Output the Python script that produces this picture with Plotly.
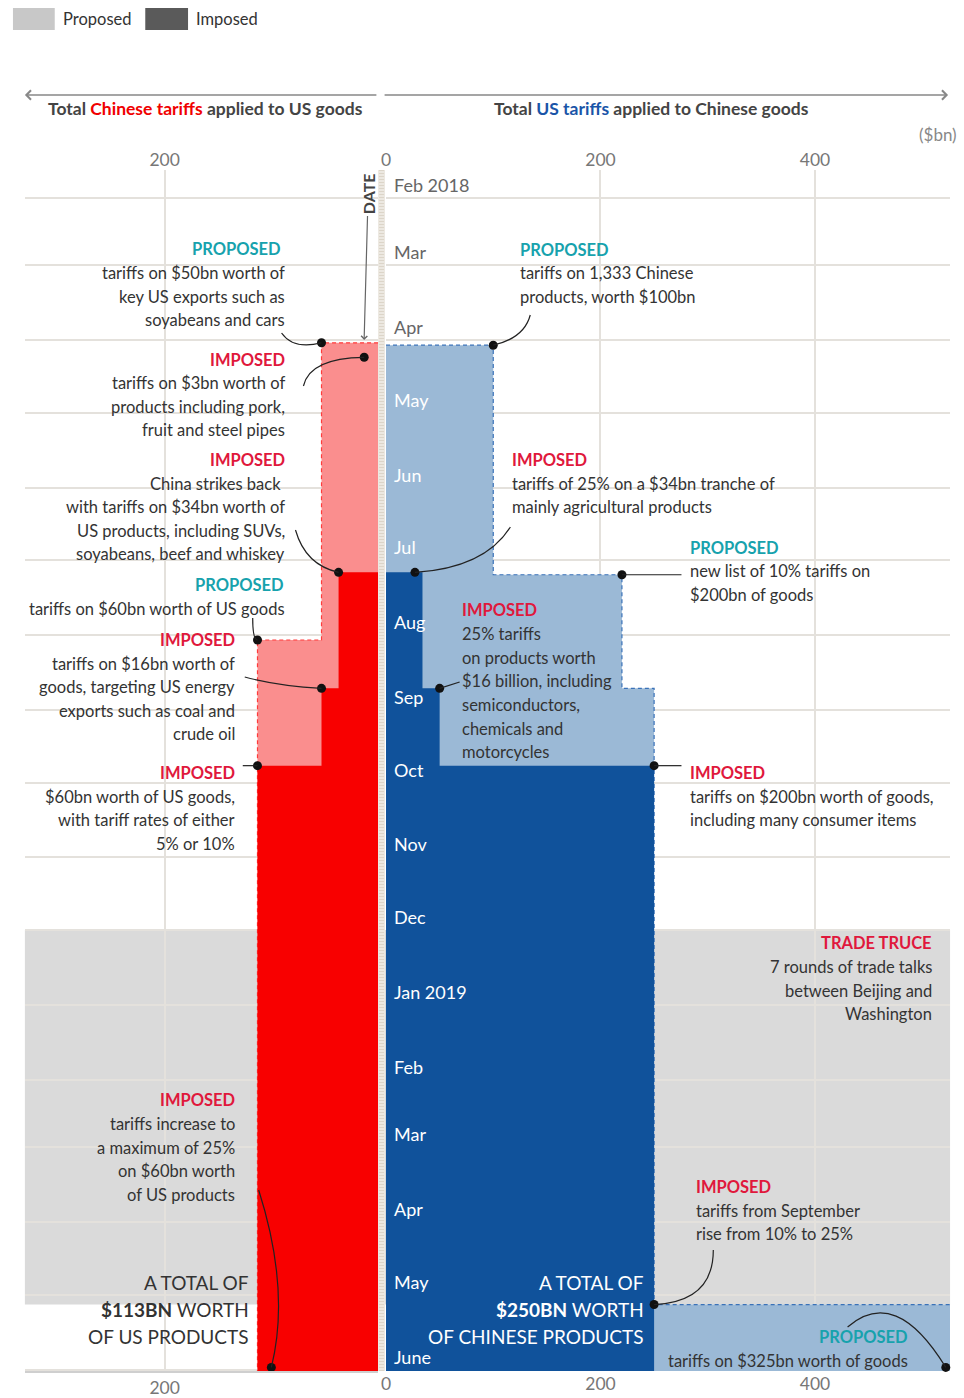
import pandas as pd
import plotly.graph_objects as go

W, H = 964, 1398

# ---------------- data ----------------
CN_PROPOSED_DATES = ['2018-04-02', '2018-08-03']
CN_PROPOSED_TOTAL = [53, 113]
CN_IMPOSED_DATES = ['2018-07-06', '2018-08-23', '2018-09-24']
CN_IMPOSED_TOTAL = [37, 53, 113]

US_PROPOSED_DATES = ['2018-04-03', '2018-07-07', '2018-08-23', '2019-05-05']
US_PROPOSED_TOTAL = [100, 220, 250, 575]
US_IMPOSED_DATES = ['2018-07-06', '2018-08-23', '2018-09-24', '2019-05-10']
US_IMPOSED_TOTAL = [34, 50, 250, 250]

END_DATE = '2019-06-02'
TRUCE_START, TRUCE_END = '2018-12-01', '2019-05-05'

CN_EVENT_VALUES = [53, 13, 37, 113, 53, 113, 100]
CN_EVENT_DATES = ['2018-04-02', '2018-04-08', '2018-07-06', '2018-08-03',
                  '2018-08-23', '2018-09-24', '2019-05-31']
US_EVENT_VALUES = [100, 27, 220, 50, 250, 250, 522]
US_EVENT_DATES = ['2018-04-03', '2018-07-06', '2018-07-07', '2018-08-23',
                  '2018-09-24', '2019-05-05', '2019-05-31']

MONTHS = ['2018-02-01', '2018-03-01', '2018-04-01', '2018-05-01', '2018-06-01',
          '2018-07-01', '2018-08-01', '2018-09-01', '2018-10-01', '2018-11-01',
          '2018-12-01', '2019-01-01', '2019-02-01', '2019-03-01', '2019-04-01',
          '2019-05-01', '2019-06-01']
MONTH_LABELS = ['Feb 2018', 'Mar', 'Apr', 'May', 'Jun', 'Jul', 'Aug', 'Sep', 'Oct',
                'Nov', 'Dec', 'Jan 2019', 'Feb', 'Mar', 'Apr', 'May', 'June']

LEFT_TICKS = [200]
RIGHT_TICKS = [0, 200, 400]

# ---------------- layout constants ----------------
Y_TOP, Y_BOT = 170, 1371
LX0, LX1 = 20, 375
RX0, RX1 = 383, 950
LEFT_RANGE = [331, 0]
RIGHT_RANGE = [0, 526]
DATE_TOP = pd.Timestamp('2018-01-20 12:00')
DATE_BOT = pd.Timestamp('2019-06-01 12:00')

LIGHT_RED, DARK_RED = '#fa8e8e', '#f80000'
LIGHT_BLUE, DARK_BLUE = '#9bb9d6', '#10529b'
TEAL, CRIMSON, TXT = '#17a2ad', '#e0183c', '#333333'
GRID = '#e4e1dc'
FONT = 'Lato'
BODY = 16.5


def PX(x):
    return x / W


def PY(y):
    return 1 - y / H


def left_px(v):
    return LX0 + (LEFT_RANGE[0] - v) / LEFT_RANGE[0] * (LX1 - LX0)


def right_px(v):
    return RX0 + v / RIGHT_RANGE[1] * (RX1 - RX0)


def date_px(d):
    t = pd.Timestamp(d)
    return Y_TOP + (t - DATE_TOP) / (DATE_BOT - DATE_TOP) * (Y_BOT - Y_TOP)


def step_outline(dates, values, end):
    ys = [dates[0]] + list(dates) + [end, end]
    xs = [0] + list(values) + [values[-1], 0]
    return xs, ys


fig = go.Figure()

# ---------------- areas ----------------
xs, ys = step_outline(CN_PROPOSED_DATES, CN_PROPOSED_TOTAL, END_DATE)
fig.add_trace(go.Scatter(x=xs, y=ys, xaxis='x', yaxis='y', mode='lines', fill='toself',
                         fillcolor=LIGHT_RED,
                         line=dict(shape='vh', color='#ff3b3b', width=1.2, dash='4px,3px'),
                         hoverinfo='skip', showlegend=False))
xs, ys = step_outline(CN_IMPOSED_DATES, CN_IMPOSED_TOTAL, END_DATE)
fig.add_trace(go.Scatter(x=xs, y=ys, xaxis='x', yaxis='y', mode='lines', fill='toself',
                         fillcolor=DARK_RED, line=dict(shape='vh', width=0, color=DARK_RED),
                         hoverinfo='skip', showlegend=False))
xs, ys = step_outline(US_PROPOSED_DATES, US_PROPOSED_TOTAL, END_DATE)
fig.add_trace(go.Scatter(x=xs, y=ys, xaxis='x2', yaxis='y2', mode='lines', fill='toself',
                         fillcolor=LIGHT_BLUE,
                         line=dict(shape='vh', color='#3a72b8', width=1.2, dash='4px,3px'),
                         hoverinfo='skip', showlegend=False))
xs, ys = step_outline(US_IMPOSED_DATES, US_IMPOSED_TOTAL, END_DATE)
fig.add_trace(go.Scatter(x=xs, y=ys, xaxis='x2', yaxis='y2', mode='lines', fill='toself',
                         fillcolor=DARK_BLUE, line=dict(shape='vh', width=0, color=DARK_BLUE),
                         hoverinfo='skip', showlegend=False))

# empty traces to carry the bottom axes
fig.add_trace(go.Scatter(x=[], y=[], xaxis='x3', yaxis='y', showlegend=False, hoverinfo='skip'))
fig.add_trace(go.Scatter(x=[], y=[], xaxis='x4', yaxis='y2', showlegend=False, hoverinfo='skip'))

# ---------------- connectors (curves) ----------------
shapes = []


def curve(x0, y0, cx, cy, x1, y1):
    shapes.append(dict(type='path', xref='paper', yref='paper', layer='above',
                       path=f'M {PX(x0)},{PY(y0)} Q {PX(cx)},{PY(cy)} {PX(x1)},{PY(y1)}',
                       line=dict(color='#222', width=1.2)))


cn_dots = [(left_px(v), date_px(d)) for v, d in zip(CN_EVENT_VALUES, CN_EVENT_DATES)]
us_dots = [(right_px(v), date_px(d)) for v, d in zip(US_EVENT_VALUES, US_EVENT_DATES)]

cn_curves = [((278, 333), (290, 350)), ((300, 386), (306, 358)), ((292, 530), (302, 565)),
             ((249, 618), (249, 640)), ((241, 677), (275, 686)), (None, None),
             ((255, 1190), (287, 1290))]
for (start, ctrl), (dx, dy) in zip(cn_curves, cn_dots):
    if start is None:
        curve(239, dy, (239 + dx) / 2, dy, dx, dy)
    else:
        curve(start[0], start[1], ctrl[0], ctrl[1], dx, dy)

us_curves = [((528, 315), (522, 338)), ((508, 527), (482, 568)), ('h', 680),
             ((457, 682), None), ('h', 680), ((712, 1250), (712, 1302)),
             ((847, 1327), (895, 1285))]
for spec, (dx, dy) in zip(us_curves, us_dots):
    if spec[0] == 'h':
        curve(spec[1], dy, (spec[1] + dx) / 2, dy, dx, dy)
    elif spec[1] is None:
        sx, sy = spec[0]
        curve(sx, sy, (sx + dx) / 2, (sy + dy) / 2, dx, dy)
    else:
        (sx, sy), (cx, cy) = spec
        curve(sx, sy, cx, cy, dx, dy)

# dots
fig.add_trace(go.Scatter(x=CN_EVENT_VALUES, y=CN_EVENT_DATES, xaxis='x', yaxis='y',
                         mode='markers', marker=dict(color='#111', size=9),
                         hoverinfo='skip', showlegend=False, cliponaxis=False))
fig.add_trace(go.Scatter(x=US_EVENT_VALUES, y=US_EVENT_DATES, xaxis='x2', yaxis='y2',
                         mode='markers', marker=dict(color='#111', size=9),
                         hoverinfo='skip', showlegend=False, cliponaxis=False))

# ---------------- background shapes ----------------
shapes.append(dict(type='rect', xref='paper', yref='y', layer='below',
                   x0=PX(LX0), x1=PX(RX1), y0=TRUCE_START, y1=TRUCE_END,
                   fillcolor='#dadada', line=dict(width=0)))
MASKS = [(85, 238, 320, 336), (55, 336, 320, 350), (75, 350, 320, 448), (92, 448, 320, 522),
         (55, 522, 340, 575), (35, 575, 262, 632), (28, 632, 262, 752), (72, 752, 262, 800),
         (150, 800, 262, 872), (80, 1306, 262, 1370),
         (383, 238, 727, 300), (468, 300, 535, 345), (489, 400, 605, 425),
         (489, 425, 793, 535), (489, 535, 950, 610), (654, 620, 716, 720),
         (654, 760, 950, 840)]
for x0, y0, x1, y1 in MASKS:
    shapes.append(dict(type='rect', xref='paper', yref='paper', layer='between',
                       x0=PX(x0), x1=PX(x1), y0=PY(y1), y1=PY(y0),
                       fillcolor='white', line=dict(width=0)))
# central date ruler
shapes.append(dict(type='rect', xref='paper', yref='paper', layer='above',
                   x0=PX(375), x1=PX(382), y0=PY(Y_BOT), y1=PY(Y_TOP),
                   fillcolor='#ece8e1', line=dict(width=0)))
shapes.append(dict(type='line', xref='paper', yref='paper', layer='above',
                   x0=PX(378.5), x1=PX(378.5), y0=PY(Y_BOT), y1=PY(Y_TOP),
                   line=dict(color='#dcd5c9', width=5, dash='1px,2px')))
# legend swatches
shapes.append(dict(type='rect', xref='paper', yref='paper', x0=PX(8), x1=PX(50),
                   y0=PY(30), y1=PY(8), fillcolor='#c8c8c8', line=dict(width=0)))
shapes.append(dict(type='rect', xref='paper', yref='paper', x0=PX(141), x1=PX(184),
                   y0=PY(30), y1=PY(8), fillcolor='#5a5a5a', line=dict(width=0)))

# ---------------- annotations ----------------
ann = []


def text(t, x, y, anchor='left', size=BODY, color=TXT, bold=False):
    ann.append(dict(text=f'<b>{t}</b>' if bold else t, x=PX(x), y=PY(y), xref='paper',
                    yref='paper', xanchor=anchor, yanchor='middle', showarrow=False,
                    font=dict(family=FONT, size=size, color=color)))


text('Proposed', 56, 19, size=16.5)
text('Imposed', 190, 19, size=16.5)
text('Total <span style="color:#f00000">Chinese tariffs</span> applied to US goods',
     202, 109, anchor='center', size=17.5, color='#444', bold=True)
text('Total <span style="color:#1a55a8">US tariffs</span> applied to Chinese goods',
     650, 108, anchor='center', size=17.5, color='#444', bold=True)
text('($bn)', 959, 135, anchor='right', size=17, color='#888')

ann.append(dict(text='', x=PX(20), y=PY(95), xref='paper', yref='paper', showarrow=True,
                ax=353, ay=0, arrowhead=4, arrowsize=1.2, arrowwidth=1.5, arrowcolor='#888'))
ann.append(dict(text='', x=PX(948), y=PY(95), xref='paper', yref='paper', showarrow=True,
                ax=-565, ay=0, arrowhead=4, arrowsize=1.2, arrowwidth=1.5, arrowcolor='#888'))
ann.append(dict(text='<b>DATE</b>', x=PX(361), y=PY(340), xref='paper', yref='paper',
                showarrow=True, ax=4, ay=-146, textangle=-90, arrowhead=4, arrowsize=1,
                arrowwidth=1.2, arrowcolor='#666',
                font=dict(family=FONT, size=16, color='#444')))

STYLE = {'prop': dict(color=TEAL, bold=True), 'imp': dict(color=CRIMSON, bold=True),
         'body': dict(color=TXT), 'total': dict(color=TXT, size=19),
         'total_w': dict(color='white', size=19)}

LINES = [
    ('PROPOSED', 'prop', 'right', 279, 249),
    ('tariffs on $50bn worth of', 'body', 'right', 283, 273),
    ('key US exports such as', 'body', 'right', 283, 297),
    ('soyabeans and cars', 'body', 'right', 283, 320),
    ('IMPOSED', 'imp', 'right', 283, 360),
    ('tariffs on $3bn worth of', 'body', 'right', 283, 383),
    ('products including pork,', 'body', 'right', 283, 407),
    ('fruit and steel pipes', 'body', 'right', 283, 430),
    ('IMPOSED', 'imp', 'right', 283, 460),
    ('China strikes back', 'body', 'right', 279, 484),
    ('with tariffs on $34bn worth of', 'body', 'right', 283, 507),
    ('US products, including SUVs,', 'body', 'right', 283, 531),
    ('soyabeans, beef and whiskey', 'body', 'right', 283, 554),
    ('PROPOSED', 'prop', 'right', 282, 585),
    ('tariffs on $60bn worth of US goods', 'body', 'right', 283, 609),
    ('IMPOSED', 'imp', 'right', 233, 640),
    ('tariffs on $16bn worth of', 'body', 'right', 233, 664),
    ('goods, targeting US energy', 'body', 'right', 233, 687),
    ('exports such as coal and', 'body', 'right', 233, 711),
    ('crude oil', 'body', 'right', 233, 734),
    ('IMPOSED', 'imp', 'right', 233, 773),
    ('$60bn worth of US goods,', 'body', 'right', 233, 797),
    ('with tariff rates of either', 'body', 'right', 233, 820),
    ('5% or 10%', 'body', 'right', 233, 844),
    ('IMPOSED', 'imp', 'right', 233, 1100),
    ('tariffs increase to', 'body', 'right', 233, 1124),
    ('a maximum of 25%', 'body', 'right', 233, 1148),
    ('on $60bn worth', 'body', 'right', 233, 1171),
    ('of US products', 'body', 'right', 233, 1195),
    ('A TOTAL OF', 'total', 'right', 247, 1282),
    ('<b>$113BN</b> WORTH', 'total', 'right', 247, 1309),
    ('OF US PRODUCTS', 'total', 'right', 247, 1336),
    ('PROPOSED', 'prop', 'left', 516, 250),
    ('tariffs on 1,333 Chinese', 'body', 'left', 516, 273),
    ('products, worth $100bn', 'body', 'left', 516, 297),
    ('IMPOSED', 'imp', 'left', 508, 460),
    ('tariffs of 25% on a $34bn tranche of', 'body', 'left', 508, 484),
    ('mainly agricultural products', 'body', 'left', 508, 507),
    ('PROPOSED', 'prop', 'left', 687, 548),
    ('new list of 10% tariffs on', 'body', 'left', 687, 571),
    ('$200bn of goods', 'body', 'left', 687, 595),
    ('IMPOSED', 'imp', 'left', 457, 610),
    ('25% tariffs', 'body', 'left', 457, 634),
    ('on products worth', 'body', 'left', 457, 658),
    ('$16 billion, including', 'body', 'left', 457, 681),
    ('semiconductors,', 'body', 'left', 457, 705),
    ('chemicals and', 'body', 'left', 457, 729),
    ('motorcycles', 'body', 'left', 457, 752),
    ('IMPOSED', 'imp', 'left', 687, 773),
    ('tariffs on $200bn worth of goods,', 'body', 'left', 687, 797),
    ('including many consumer items', 'body', 'left', 687, 820),
    ('TRADE TRUCE', 'imp', 'right', 934, 943),
    ('7 rounds of trade talks', 'body', 'right', 934, 967),
    ('between Beijing and', 'body', 'right', 934, 991),
    ('Washington', 'body', 'right', 934, 1014),
    ('IMPOSED', 'imp', 'left', 693, 1187),
    ('tariffs from September', 'body', 'left', 693, 1211),
    ('rise from 10% to 25%', 'body', 'left', 693, 1234),
    ('A TOTAL OF', 'total_w', 'right', 644, 1282),
    ('<b>$250BN</b> WORTH', 'total_w', 'right', 644, 1309),
    ('OF CHINESE PRODUCTS', 'total_w', 'right', 644, 1336),
    ('PROPOSED', 'prop', 'right', 910, 1337),
    ('tariffs on $325bn worth of goods', 'body', 'right', 910, 1361),
]
for t, kind, anchor, x, y in LINES:
    text(t, x, y, anchor=anchor, **STYLE[kind])

for i, (m, lab) in enumerate(zip(MONTHS, MONTH_LABELS)):
    ann.append(dict(text=lab, x=PX(389), y=m, xref='paper', yref='y', xanchor='left',
                    yanchor='middle', yshift=13, showarrow=False,
                    font=dict(family=FONT, size=18, color='#666' if i < 3 else 'white')))

# ---------------- axes ----------------
ydom = [1 - Y_BOT / H, 1 - Y_TOP / H]
yrange = [str(DATE_BOT), str(DATE_TOP)]
tickfont = dict(family=FONT, size=17.5, color='#777')
yax = dict(domain=ydom, range=yrange, type='date', tickvals=MONTHS, showticklabels=False,
           showgrid=True, gridcolor=GRID, gridwidth=2, zeroline=False, ticks='')
fig.update_layout(
    width=W, height=H, margin=dict(l=0, r=0, t=0, b=0),
    paper_bgcolor='white', plot_bgcolor='rgba(0,0,0,0)', showlegend=False,
    font=dict(family=FONT),
    xaxis=dict(domain=[PX(LX0), PX(LX1)], range=LEFT_RANGE, side='top', anchor='y',
               tickvals=LEFT_TICKS, showgrid=True, gridcolor=GRID, gridwidth=2,
               zeroline=False, ticks='', tickfont=tickfont),
    xaxis2=dict(domain=[PX(RX0), PX(RX1)], range=RIGHT_RANGE, side='top', anchor='y2',
                tickvals=RIGHT_TICKS, showgrid=True, gridcolor=GRID, gridwidth=2,
                zeroline=False, ticks='', tickfont=tickfont),
    xaxis3=dict(overlaying='x', range=LEFT_RANGE, side='bottom', anchor='y',
                tickvals=LEFT_TICKS, showgrid=False, zeroline=False, ticks='',
                showline=True, linecolor='#cfcfcf', linewidth=2, tickfont=tickfont),
    xaxis4=dict(overlaying='x2', range=RIGHT_RANGE, side='bottom', anchor='y2',
                tickvals=RIGHT_TICKS, showgrid=False, zeroline=False, ticks='',
                tickfont=tickfont),
    yaxis=dict(anchor='x', **yax),
    yaxis2=dict(anchor='x2', matches='y', **yax),
    shapes=shapes,
    annotations=ann,
)

fig.write_html('out.html', config={'displayModeBar': False},
               post_script="document.body.style.margin='0px';"
                           "document.body.style.overflow='hidden';")
